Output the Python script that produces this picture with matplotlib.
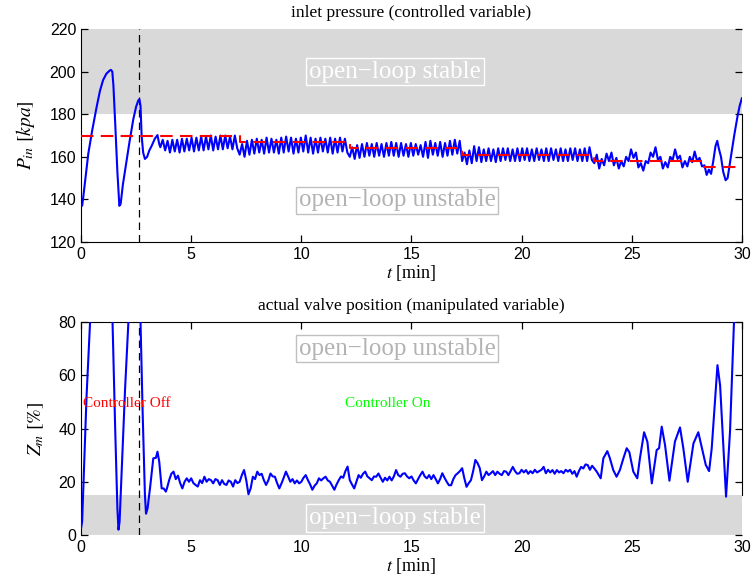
import numpy as np
import matplotlib.pyplot as plt

plt.rcParams['font.family'] = 'Liberation Serif'
plt.rcParams['mathtext.fontset'] = 'stix'
plt.rcParams['xtick.direction'] = 'in'
plt.rcParams['ytick.direction'] = 'in'
plt.rcParams['xtick.top'] = True
plt.rcParams['ytick.right'] = True
plt.rcParams['xtick.major.size'] = 5
plt.rcParams['ytick.major.size'] = 5
plt.rcParams['xtick.major.width'] = 0.9
plt.rcParams['ytick.major.width'] = 0.9

# ---- inlet pressure data (kPa) ----
# transient before controller is switched on
t_p_start = [0, 0.05, 0.1, 0.2, 0.33, 0.5, 0.7, 0.86, 1.0, 1.15, 1.3, 1.36, 1.42, 1.47,
             1.55, 1.65, 1.74, 1.8, 1.9, 2.07, 2.2, 2.37, 2.5, 2.6, 2.65, 2.7, 2.75,
             2.82, 2.9, 3.0, 3.1, 3.2, 3.35, 3.47, 3.55]
p_start = [137, 137, 141, 150, 161.5, 172, 183, 191, 196, 199, 200.5, 200.8, 200, 193.5,
           176, 153, 137, 138, 147, 158.5, 167, 177.5, 183.5, 186.5, 187, 184, 170,
           162, 159, 160, 163, 165, 168.5, 170.2, 166]

# controlled part, one list per setpoint segment (peaks/troughs)
seg_bounds = [3.6, 7.2, 12.2, 17.3, 23.3, 28.3]
p_seg_a = [164.5, 168, 163, 167.5, 162, 168, 162.5, 168, 162, 168.5, 162.5, 168.5, 163, 169,
           162.5, 169, 163, 169.5, 163, 169.5, 163.5, 170, 163, 169.5, 163.5, 170, 163.5,
           170, 164, 169.5, 163.5, 170, 164]
p_seg_b = [161, 166, 160, 167.5, 161, 168, 161.5, 168.5, 162, 168, 161.5, 169, 162, 168.5,
           162, 168, 161.5, 169, 162, 169.5, 162.5, 169, 161.5, 168.5, 162, 169, 162.5, 170,
           162, 169, 161.5, 168.5, 162, 169, 162.5, 168.5, 162, 169, 161.5, 168.5, 162, 169,
           162.5, 168.5, 162]
p_seg_c = [160, 164.5, 159, 165.5, 159.5, 166, 160, 166.5, 160.5, 166, 160, 166.5, 160.5, 166,
           160, 166.5, 160.5, 167, 160.5, 166.5, 160, 166.5, 160.5, 166, 160, 166.5, 160.5,
           166, 161, 165.5, 160, 167, 159.5, 167.5, 161, 166.5, 160.5, 167, 160, 166.5, 160.5,
           167.5, 161, 168, 161.5, 167.5]
p_seg_d = [158, 162, 156.5, 163, 157, 165, 158, 164.5, 157.5, 163.5, 158, 164, 158, 163.5,
           157.5, 164, 158, 164, 158.5, 164, 158, 163.5, 158, 164, 158, 164, 158.5, 164, 158,
           163.5, 158, 164, 158.5, 163.5, 158, 164, 158, 164, 158.5, 163.5, 158, 164, 158,
           163.5, 158, 164, 158.5, 164, 158, 163.5, 158, 164, 158, 164.5, 158.5]
p_seg_e = [157, 161, 154.5, 159, 156, 161.5, 158, 162, 156, 159.5, 154.5, 158, 155.5, 160, 158,
           163.5, 159.5, 162, 155, 157, 153.5, 158, 157, 162, 160, 164.5, 158.5, 160, 154.5,
           157.5, 155, 160, 158.5, 163.5, 159, 160.5, 155, 158, 155.5, 160, 157.5, 162.5, 158,
           159.5, 155.5]
t_p_end = [28.3, 28.4, 28.5, 28.6, 28.7, 28.8, 28.88, 28.95, 29.05, 29.15, 29.26, 29.35,
           29.5, 29.65, 29.8, 29.9, 30.0]
p_end = [156, 151.5, 154, 152, 158, 165, 167.5, 164, 160, 153, 149, 150, 160, 170, 179,
         184, 187.5]

# setpoint steps
sp_t = [0, 7.2, 12.2, 17.3, 23.3, 28.3, 30]
sp_val = [170, 167, 164, 161, 158, 155, 155]

# ---- valve position data (%) ----
# open-loop swings
t_z_start = [0, 0.05, 0.15, 0.25, 0.41, 0.6, 0.9, 1.2, 1.43, 1.55, 1.65, 1.7, 1.75, 1.85,
             2.0, 2.15, 2.3, 2.5, 2.7, 2.8, 2.9, 2.95, 3.02, 3.13, 3.28, 3.4, 3.47, 3.55,
             3.66, 3.75, 3.85]
z_start = [2.5, 5, 28, 52, 80, 115, 130, 110, 80, 40, 10, 2, 5, 25,
           55, 80, 105, 110, 80, 45, 15, 8, 10, 17.5, 28.8, 29, 31.3, 27.6,
           17.5, 17.5, 16.3]
# controlled part, sampled every 0.1 min from 3.9 to 23.3
z_mid = [17.5, 20.6, 23, 23.8, 21, 22.3, 19.5, 17.5, 20, 21.3,
         20, 21.3, 19.5, 18.8, 18.2, 20.6, 19.5, 21.9, 20, 21,
         20.6, 19.4, 21, 20.6, 18.8, 20.6, 19.2, 18.8, 20.5, 20,
         18.2, 20.6, 19.5, 20, 22.5, 24.4, 20.6, 15.3, 17.5, 21.9,
         21, 23.8, 22.5, 23, 20.6, 18.8, 20.5, 23.1, 22, 21.9,
         19.5, 17.5, 19.4, 21.5, 23.8, 22, 20, 21, 19.4, 20.5,
         19.4, 20, 21.5, 22.5, 20.6, 19, 17, 18.5, 19.4, 21.3,
         20.5, 21.3, 21.9, 20.5, 20, 18.5, 17, 19, 20.6, 22,
         21.5, 24, 25.7, 20.6, 19, 17.5, 20, 22.5, 21.5, 23,
         23.8, 22, 21.3, 20.6, 22, 21.9, 23.1, 21.5, 20, 21.5,
         20.5, 21.9, 20.5, 22, 24.4, 22.5, 21.9, 23, 23.2, 22,
         21.3, 22, 20.5, 19.4, 21, 22.5, 23.8, 22, 21.3, 22.5,
         21, 22.5, 21, 19.4, 21, 23.2, 21.5, 20, 18.7, 18.7,
         21, 22.5, 23.2, 24, 25.1, 21.3, 18.1, 19.5, 20.6, 24,
         28.2, 27, 25.1, 20.6, 22, 23.8, 22.5, 23.2, 24, 22.5,
         23.8, 23, 22.5, 24, 23.8, 22.5, 24, 25.6, 24, 23,
         23.2, 24.5, 23.5, 24.4, 23, 24, 23.2, 24.5, 23.5, 24,
         24.5, 25.6, 23.2, 24.5, 23.5, 24.4, 23, 24.4, 23.5, 24,
         23.2, 24.5, 23.8, 24.5, 23, 24, 21.9, 24, 25.6, 25,
         26.5, 26.3, 24.5, 26, 25]
# growing oscillation at the end
t_z_end = [23.41, 23.59, 23.71, 23.89, 24.0, 24.16, 24.31, 24.46, 24.62, 24.77, 24.89,
           25.07, 25.25, 25.37, 25.56, 25.71, 25.91, 26.13, 26.24, 26.36, 26.51, 26.71,
           26.96, 27.19, 27.34, 27.54, 27.8, 28.02, 28.22, 28.36, 28.51, 28.63, 28.89,
           29.01, 29.28, 29.46, 29.64, 29.85, 30.0]
z_end = [23.8, 21.3, 28.8, 31.5, 29.0, 24.4, 21.9, 24.4, 28.8, 32.6, 31.1,
         23.8, 21.3, 28.8, 38.6, 35.0, 19.4, 31.9, 32.6, 40.7, 33.8, 20.4,
         35.1, 40.4, 32.6, 20.0, 34.4, 38.6, 31.3, 26.3, 24.0, 32.6, 63.8,
         56.2, 14.4, 38.9, 80, 110, 130]

# assemble series
p_segs = [p_seg_a, p_seg_b, p_seg_c, p_seg_d, p_seg_e]
t_p = list(t_p_start)
p_in = list(p_start)
for i, seg in enumerate(p_segs):
    t_p += list(np.linspace(seg_bounds[i], seg_bounds[i + 1], len(seg), endpoint=False))
    p_in += seg
t_p += t_p_end
p_in += p_end

t_z = t_z_start + list(np.linspace(3.9, 23.3, len(z_mid))) + t_z_end
z_val = z_start + z_mid + z_end

t_switch = 2.65
grey = '#d9d9d9'
box_txt = 'open\u2212loop stable'
box_txt2 = 'open\u2212loop unstable'

fig = plt.figure(figsize=(7.51, 5.86), dpi=100)
ax1 = fig.add_axes([0.1079, 0.587, 0.880, 0.3635])
ax2 = fig.add_axes([0.1079, 0.087, 0.880, 0.3635])

for ax in (ax1, ax2):
    ax.set_xlim(0, 30)
    ax.set_xticks([0, 5, 10, 15, 20, 25, 30])
    ax.tick_params(labelsize=11.5, labelfontfamily='Liberation Sans')
    ax.xaxis.set_zorder(3.5)
    ax.yaxis.set_zorder(3.5)
    ax.spines['left'].set_zorder(4)
    for s in ax.spines.values():
        s.set_linewidth(0.8)
    ax.axvline(t_switch, color='k', ls=(0, (6, 4)), lw=0.9, zorder=5)
    ax.set_xlabel('$t$ [min]', fontsize=13, labelpad=1)

# top: inlet pressure
ax1.axhspan(180, 220, color=grey, zorder=3, lw=0)
ax1.spines['top'].set_visible(False)
ax1.spines['right'].set_bounds(120, 180)
ax1.tick_params(axis='x', top=False)
ax1.plot(t_p, p_in, color='b', lw=1.5, zorder=5)
ax1.step(sp_t, sp_val, where='post', color='r', ls=(0, (6, 3.5)), lw=1.5, zorder=6)
ax1.set_ylim(120, 220)
ax1.set_yticks([120, 140, 160, 180, 200, 220])
ax1.set_ylabel('$P_{in}\\ [kpa]$', fontsize=14, labelpad=9)
ax1.set_title('inlet pressure (controlled variable)', fontsize=12.5, pad=9)
ax1.text(14.25, 200, box_txt, fontsize=18, color='white', ha='center', va='center',
         zorder=7, bbox=dict(facecolor=grey, edgecolor='white', pad=2, lw=1))
ax1.text(14.35, 139.5, box_txt2, fontsize=18, color='#b3b3b3', ha='center', va='center',
         zorder=7, bbox=dict(facecolor='white', edgecolor='#c0c0c0', pad=2, lw=1))

# bottom: valve position
ax2.axhspan(0, 15, color=grey, zorder=3, lw=0)
ax2.spines['bottom'].set_visible(False)
ax2.spines['right'].set_bounds(15, 80)
ax2.tick_params(axis='x', bottom=False)
ax2.plot(t_z, z_val, color='b', lw=1.5, zorder=5)
ax2.set_ylim(0, 80)
ax2.set_yticks([0, 20, 40, 60, 80])
ax2.set_ylabel('$Z_m\\ [\\%]$', fontsize=14, labelpad=9)
ax2.set_title('actual valve position (manipulated variable)', fontsize=12.5, pad=9)
ax2.text(14.35, 70, box_txt2, fontsize=18, color='#b3b3b3', ha='center', va='center',
         zorder=7, bbox=dict(facecolor='white', edgecolor='#c0c0c0', pad=2, lw=1))
ax2.text(14.25, 6.3, box_txt, fontsize=18, color='white', ha='center', va='center',
         zorder=7, bbox=dict(facecolor=grey, edgecolor='white', pad=2, lw=1))
ax2.text(0.1, 49.5, 'Controller Off', fontsize=11, color='r', ha='left', va='center', zorder=7)
ax2.text(12.0, 49.5, 'Controller On', fontsize=11, color='#00ff00', ha='left', va='center',
         zorder=7)

fig.savefig('out.png', dpi=100)
